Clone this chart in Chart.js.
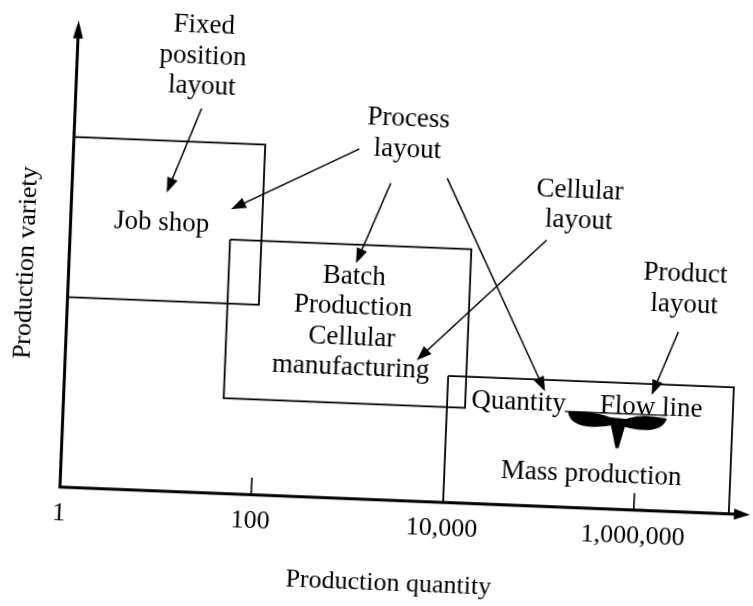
<!DOCTYPE html>
<html>
<head>
<meta charset="utf-8">
<title>Production layouts</title>
<script src="https://cdn.jsdelivr.net/npm/chart.js@4.4.1/dist/chart.umd.min.js"></script>
<style>
html, body { margin: 0; padding: 0; background: #fff; overflow: hidden; width: 753px; height: 606px; }
#wrap { position: absolute; left: -30px; top: -27px; width: 820px; height: 660px; transform: rotate(2.3deg); }
</style>
</head>
<body>
<div id="wrap"><canvas id="myChart" width="820" height="660"></canvas></div>

<script>
// production quantity (log) against production variety (0-100)
var xMax = 16440000;
var yMax = 100;
var tickValues = [1, 100, 10000, 1000000];
var tickLabels = ['1', '100', '10,000', '1,000,000'];
var tickMarks = [100, 1000000];

var regionNames = ['Job shop', 'Batch', 'Mass'];
var regionQtyFrom = [1, 47, 10160];
var regionQtyTo = [100, 15700, 9860000];
var regionVarFrom = [40.7, 20.4, 0];
var regionVarTo = [75, 54.4, 27.1];

var labelTexts = ['Fixed\nposition\nlayout', 'Process\nlayout', 'Cellular\nlayout', 'Product\nlayout',
  'Job shop', 'Batch\nProduction\nCellular\nmanufacturing', 'Quantity', 'Flow line', 'Mass production'];
var labelQty = [20.6, 3070, 202000, 2754000, 8.95, 964, 56500, 1374000, 346700];
var labelVar = [98.4, 80.2, 66.4, 49.3, 55.9, 46.0, 20.4, 20.5, 5.7];

var arrowFromQty = [20.9, 966, 2118, 8200, 95100, 2460000];
var arrowFromVar = [82.2, 74.9, 67.8, 69.4, 57.0, 38.5];
var arrowToQty = [9.8, 46.7, 993, 105700, 4690, 1377000];
var arrowToVar = [63.9, 60.9, 50.4, 24.6, 30.2, 24.8];

var braceQty = [173800, 630000, 2030000];
var braceVarTop = 20.5;
var braceVarTip = 13.1;

var xTitle = 'Production quantity';
var xTitleQty = 2940;
var yTitle = 'Production variety';
var yTitleVar = 47.7;

var SERIF = '"Liberation Serif", "Times New Roman", serif';

function head(ctx, x1, y1, x2, y2, len, half) {
  var a = Math.atan2(y2 - y1, x2 - x1);
  var bx = x2 - len * Math.cos(a), by = y2 - len * Math.sin(a);
  ctx.beginPath();
  ctx.moveTo(x2, y2);
  ctx.lineTo(bx + half * Math.sin(a), by - half * Math.cos(a));
  ctx.lineTo(bx - half * Math.sin(a), by + half * Math.cos(a));
  ctx.closePath();
  ctx.fill();
}

function arrow(ctx, x1, y1, x2, y2, len, half) {
  var a = Math.atan2(y2 - y1, x2 - x1);
  ctx.beginPath();
  ctx.moveTo(x1, y1);
  ctx.lineTo(x2 - (len - 2) * Math.cos(a), y2 - (len - 2) * Math.sin(a));
  ctx.stroke();
  head(ctx, x1, y1, x2, y2, len, half);
}

var diagram = {
  id: 'diagram',
  afterDatasetsDraw: function(chart) {
    var ctx = chart.ctx, xs = chart.scales.x, ys = chart.scales.y;
    var x0 = xs.getPixelForValue(1), y0 = ys.getPixelForValue(0);
    var xEnd = xs.getPixelForValue(xMax), yEnd = ys.getPixelForValue(yMax);
    ctx.save();
    ctx.strokeStyle = '#000';
    ctx.fillStyle = '#000';
    ctx.lineCap = 'butt';

    // axes with arrow heads
    ctx.lineWidth = 3;
    ctx.beginPath();
    ctx.moveTo(x0, y0); ctx.lineTo(xEnd - 12, y0);
    ctx.moveTo(x0, y0 + 1.5); ctx.lineTo(x0, yEnd + 12);
    ctx.stroke();
    head(ctx, x0, y0, xEnd, y0, 16, 5.5);
    head(ctx, x0, y0, x0, yEnd, 18, 5);

    // small tick marks
    ctx.lineWidth = 1.6;
    tickMarks.forEach(function(v) {
      var px = xs.getPixelForValue(v);
      ctx.beginPath(); ctx.moveTo(px, y0); ctx.lineTo(px, y0 - 17); ctx.stroke();
    });

    // tick labels
    ctx.font = '26px ' + SERIF;
    ctx.textAlign = 'center';
    ctx.textBaseline = 'alphabetic';
    tickValues.forEach(function(v, i) {
      ctx.fillText(tickLabels[i], xs.getPixelForValue(v), y0 + 33);
    });

    // axis titles
    ctx.fillText(xTitle, xs.getPixelForValue(xTitleQty), y0 + 90);
    ctx.save();
    ctx.translate(x0 - 36, ys.getPixelForValue(yTitleVar));
    ctx.rotate(-Math.PI / 2);
    ctx.fillText(yTitle, 0, 0);
    ctx.restore();

    // annotation texts
    ctx.font = '27px ' + SERIF;
    labelTexts.forEach(function(t, i) {
      var px = xs.getPixelForValue(labelQty[i]), py = ys.getPixelForValue(labelVar[i]);
      t.split('\n').forEach(function(line, k) {
        ctx.fillText(line, px, py + k * 30.5);
      });
    });

    // annotation arrows
    ctx.lineWidth = 1.5;
    arrowFromQty.forEach(function(q, i) {
      arrow(ctx, xs.getPixelForValue(q), ys.getPixelForValue(arrowFromVar[i]),
        xs.getPixelForValue(arrowToQty[i]), ys.getPixelForValue(arrowToVar[i]), 15, 5.5);
    });

    // curly brace under Quantity / Flow line
    var bl = xs.getPixelForValue(braceQty[0]), bm = xs.getPixelForValue(braceQty[1]);
    var br = xs.getPixelForValue(braceQty[2]);
    var bt = ys.getPixelForValue(braceVarTop), bb = ys.getPixelForValue(braceVarTip);
    ctx.lineWidth = 1.3;
    ctx.beginPath();
    ctx.moveTo(bl, bt); ctx.lineTo(br, bt); ctx.stroke();
    ctx.beginPath();
    ctx.moveTo(bl + 3, bt);
    ctx.bezierCurveTo(bl + 20, bt - 1, bm - 24, bt - 1, bm - 8, bt + 4);
    ctx.lineTo(bm + 8, bt + 5);
    ctx.bezierCurveTo(bm + 24, bt, br - 20, bt + 1, br, bt + 3);
    ctx.bezierCurveTo(br - 4, bt + 17, bm + 26, bt + 17, bm + 7, bt + 13);
    ctx.lineTo(bm + 1.5, bb);
    ctx.lineTo(bm - 1.5, bb);
    ctx.lineTo(bm - 7, bt + 12);
    ctx.bezierCurveTo(bm - 26, bt + 16, bl + 6, bt + 16, bl + 3, bt);
    ctx.closePath();
    ctx.fill();

    ctx.restore();
  }
};

var boxSets = regionNames.map(function(name, i) {
  var a = regionQtyFrom[i], b = regionQtyTo[i], lo = regionVarFrom[i], hi = regionVarTo[i];
  return {
    label: name,
    data: [{x: a, y: hi}, {x: b, y: hi}, {x: b, y: lo}, {x: a, y: lo}, {x: a, y: hi}],
    showLine: true,
    borderColor: '#000',
    borderWidth: 1.8,
    pointRadius: 0,
    tension: 0,
    fill: false,
    clip: false
  };
});

var ctx = document.getElementById('myChart').getContext('2d');
var myChart = new Chart(ctx, {
  type: 'scatter',
  data: { datasets: boxSets },
  options: {
    responsive: false,
    animation: false,
    events: [],
    layout: { padding: { left: 97.6, right: 31.8, top: 59.7, bottom: 133.3 }, autoPadding: false },
    plugins: { legend: { display: false }, tooltip: { enabled: false } },
    scales: {
      x: { type: 'logarithmic', min: 1, max: xMax, bounds: 'data', display: false },
      y: { type: 'linear', min: 0, max: yMax, bounds: 'data', display: false }
    }
  },
  plugins: [diagram]
});
</script>
</body>
</html>
